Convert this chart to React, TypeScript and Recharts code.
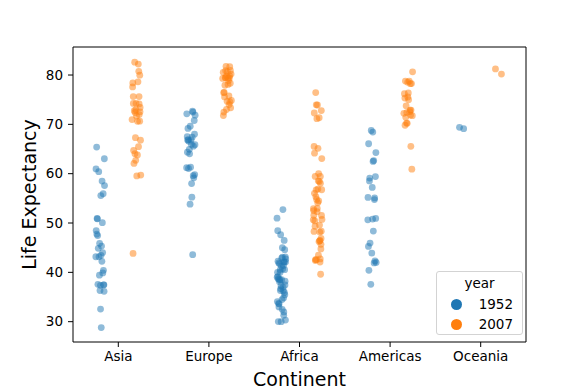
import React from 'react';
import { ScatterChart, Scatter, XAxis, YAxis, ReferenceArea, Legend } from 'recharts';

const CONTINENTS = ['Asia', 'Europe', 'Africa', 'Americas', 'Oceania'];
const YEARS = ['1952', '2007'];
const COLORS = ['#1f77b4', '#ff7f0e'];
const Y_TICKS = [30, 40, 50, 60, 70, 80];
const Y_DOMAIN = [25.88, 85.68];
const X_DOMAIN = [-0.5, 4.5];

const ASIA_1952 = [28.8, 50.94, 37.48, 39.42, 44.0, 60.96, 37.37, 37.47, 44.87, 45.32, 65.39, 63.03, 43.16, 50.06, 47.45, 55.57, 55.93, 48.46, 42.24, 36.32, 36.16, 37.58, 43.44, 47.75, 39.88, 60.4, 57.59, 45.88, 58.5, 50.85, 40.41, 43.16, 32.55];
const ASIA_2007 = [43.83, 75.64, 64.06, 59.72, 72.96, 82.21, 64.7, 70.65, 70.96, 59.55, 80.75, 82.6, 72.54, 67.3, 78.62, 77.59, 71.99, 74.24, 66.8, 62.07, 63.79, 75.64, 65.48, 71.69, 72.78, 79.97, 72.4, 74.14, 78.4, 70.62, 74.25, 73.42, 62.7];
const EUROPE_1952 = [55.23, 66.8, 68.0, 53.82, 59.6, 61.21, 66.87, 70.78, 66.55, 67.41, 67.5, 65.86, 64.03, 72.49, 66.91, 65.94, 59.16, 72.13, 72.67, 61.31, 59.82, 61.05, 58.0, 64.36, 65.57, 64.94, 71.86, 69.62, 43.59, 69.18];
const EUROPE_2007 = [76.42, 79.83, 79.44, 74.85, 73.01, 75.75, 76.49, 78.33, 79.31, 80.66, 79.41, 79.48, 73.34, 81.76, 78.89, 80.55, 74.54, 79.76, 80.2, 75.56, 78.1, 72.48, 74.0, 74.66, 77.93, 80.94, 80.88, 81.7, 71.78, 79.43];
const AFRICA_1952 = [43.08, 30.02, 38.22, 47.62, 31.98, 39.03, 38.52, 35.46, 38.09, 40.72, 39.14, 42.11, 40.48, 34.81, 41.89, 34.48, 35.93, 34.08, 37.0, 30.0, 43.15, 33.61, 32.5, 42.27, 42.14, 38.48, 42.72, 36.68, 36.26, 33.69, 40.54, 50.99, 42.87, 31.29, 41.73, 37.44, 36.32, 52.72, 40.0, 46.47, 37.28, 30.33, 32.98, 45.01, 38.64, 41.41, 41.22, 38.6, 44.6, 39.98, 42.04, 48.45];
const AFRICA_2007 = [72.3, 42.73, 56.73, 50.73, 52.3, 49.58, 50.43, 44.74, 50.65, 65.15, 46.46, 55.32, 48.33, 54.79, 71.34, 51.58, 58.04, 52.95, 56.74, 59.45, 60.02, 56.01, 46.39, 54.11, 42.59, 45.68, 73.95, 59.44, 48.3, 54.47, 64.16, 72.8, 71.16, 42.08, 52.91, 56.87, 46.86, 76.44, 46.24, 65.53, 63.06, 42.57, 48.16, 49.34, 58.56, 39.61, 52.52, 58.42, 73.92, 51.54, 42.38, 43.49];
const AMERICAS_1952 = [62.49, 40.41, 50.92, 68.75, 54.75, 50.64, 57.21, 59.42, 45.93, 48.36, 45.26, 42.02, 37.58, 41.91, 58.53, 50.79, 42.31, 55.19, 62.65, 43.9, 64.28, 59.1, 68.44, 66.07, 55.09];
const AMERICAS_2007 = [75.32, 65.55, 72.39, 80.65, 78.55, 72.89, 78.78, 78.27, 72.24, 74.99, 71.88, 70.26, 60.92, 70.2, 72.57, 76.2, 72.9, 75.54, 71.75, 71.42, 78.75, 69.82, 78.24, 76.38, 73.75];
const OCEANIA_1952 = [69.12, 69.39];
const OCEANIA_2007 = [81.24, 80.2];

const JITTER = [0.012, -0.034, 0.041, -0.008, 0.027, -0.046, 0.003, 0.038, -0.021, 0.015, -0.039, 0.046, -0.013, 0.024, -0.028, 0.007, 0.033, -0.044, 0.019, -0.002, 0.043, -0.025, 0.009, -0.037, 0.029, -0.016, 0.048, -0.006, 0.021, -0.031, 0.036, -0.048, 0.004, 0.026, -0.019, 0.04, -0.011, 0.017, -0.042, 0.031, -0.004, 0.045, -0.027, 0.011, -0.035, 0.023, 0.001, -0.023, 0.037, -0.015, 0.03, -0.04];

const GROUPS = [
  [ASIA_1952, EUROPE_1952, AFRICA_1952, AMERICAS_1952, OCEANIA_1952],
  [ASIA_2007, EUROPE_2007, AFRICA_2007, AMERICAS_2007, OCEANIA_2007],
];
const DODGE = [-0.2, 0.2];
const SHIFT = [0, 23];

const buildPoints = (h: number) =>
  GROUPS[h].flatMap((vals, ci) =>
    vals.map((v, i) => ({ x: ci + DODGE[h] + JITTER[(i + SHIFT[h]) % JITTER.length], y: v }))
  );

const FONT = 'DejaVu Sans, sans-serif';

const makeShape = (color: string) => (props: any) => (
  <circle cx={props.cx} cy={props.cy} r={3.4} fill={color} fillOpacity={0.5} stroke="none" />
);

const renderLegend = () => (
  <div
    style={{
      width: 87,
      height: 64,
      boxSizing: 'border-box',
      border: '1px solid #d3d3d3',
      borderRadius: 3,
      background: 'rgba(255,255,255,0.8)',
      fontFamily: FONT,
      fontSize: 13.5,
      color: '#000',
      position: 'relative',
    }}
  >
    <div style={{ position: 'absolute', top: 3, left: 0, width: '100%', textAlign: 'center', lineHeight: '16px' }}>year</div>
    {YEARS.map((y, i) => (
      <div key={y}>
        <div
          style={{
            position: 'absolute',
            left: 14,
            top: 27 + i * 20,
            width: 11,
            height: 11,
            borderRadius: '50%',
            background: COLORS[i],
          }}
        />
        <div style={{ position: 'absolute', right: 9, top: 24 + i * 20, lineHeight: '16px' }}>{y}</div>
      </div>
    ))}
  </div>
);

const XLabel = (props: any) => {
  const vb = props.viewBox;
  return (
    <text x={vb.x + vb.width / 2} y={vb.y + 44} textAnchor="middle" fontFamily={FONT} fontSize={19} fill="#000">
      Continent
    </text>
  );
};

const YLabel = (props: any) => {
  const vb = props.viewBox;
  const cx = 36;
  const cy = vb.y + vb.height / 2;
  return (
    <text x={cx} y={cy} textAnchor="middle" transform={`rotate(-90, ${cx}, ${cy})`} fontFamily={FONT} fontSize={19} fill="#000">
      Life Expectancy
    </text>
  );
};

export default function App() {
  const tickStyle = { fontFamily: FONT, fontSize: 13.5, fill: '#000' };
  return (
    <div style={{ position: 'absolute', left: 0, top: 0, width: 585, height: 390, background: '#fff' }}>
      <ScatterChart width={585} height={390} margin={{ top: 47, right: 59, bottom: 0, left: 0 }}>
        <XAxis
          type="number"
          dataKey="x"
          domain={X_DOMAIN}
          ticks={[0, 1, 2, 3, 4]}
          allowDataOverflow
          tickFormatter={(v: number) => CONTINENTS[v] ?? ''}
          height={48}
          axisLine={false}
          tickLine={{ stroke: '#000' }}
          tickSize={5}
          tickMargin={4}
          tick={tickStyle}
          interval={0}
          label={<XLabel />}
        />
        <YAxis
          type="number"
          dataKey="y"
          domain={Y_DOMAIN}
          ticks={Y_TICKS}
          allowDataOverflow
          width={73}
          axisLine={false}
          tickLine={{ stroke: '#000' }}
          tickSize={5}
          tickMargin={5}
          tick={tickStyle}
          interval={0}
          label={<YLabel />}
        />
        <ReferenceArea
          x1={X_DOMAIN[0]}
          x2={X_DOMAIN[1]}
          y1={Y_DOMAIN[0]}
          y2={Y_DOMAIN[1]}
          fill="none"
          stroke="#000"
          strokeWidth={1}
          ifOverflow="visible"
        />
        {YEARS.map((y, h) => (
          <Scatter
            key={y}
            name={y}
            data={buildPoints(h)}
            fill={COLORS[h]}
            shape={makeShape(COLORS[h])}
            isAnimationActive={false}
          />
        ))}
        <Legend
          layout="vertical"
          align="center"
          verticalAlign="middle"
          content={renderLegend}
          wrapperStyle={{ position: 'absolute', left: 436, top: 271, width: 87, height: 64 }}
        />
      </ScatterChart>
    </div>
  );
}
